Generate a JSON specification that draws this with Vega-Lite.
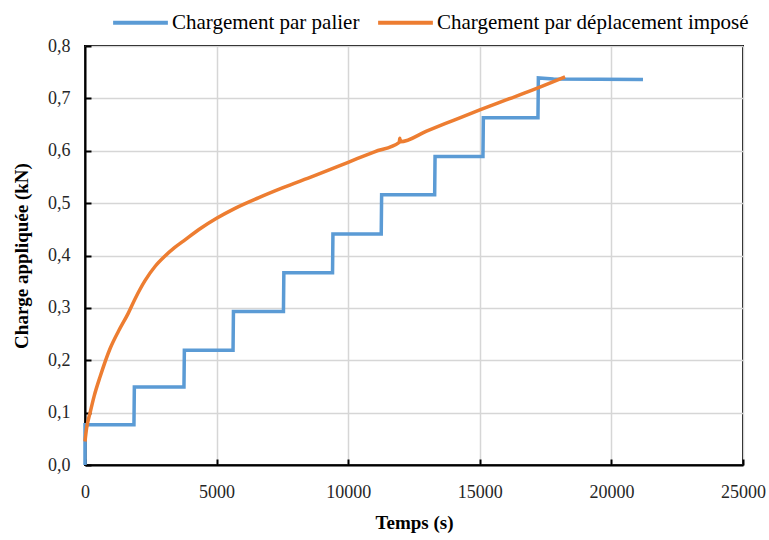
{
  "$schema": "https://vega.github.io/schema/vega-lite/v6.json",
  "width": 658,
  "height": 419,
  "autosize": {"type": "none"},
  "padding": {"left": 85, "top": 46, "right": 26, "bottom": 75},
  "background": "white",
  "config": {
    "font": "Liberation Serif",
    "view": {"stroke": "black", "strokeWidth": 2},
    "axis": {
      "gridColor": "#d6d6d6",
      "gridWidth": 1.5,
      "domainColor": "black",
      "domainWidth": 2,
      "tickColor": "black",
      "tickWidth": 2,
      "labelFlush": false,
      "labelFont": "Liberation Serif",
      "labelFontSize": 18,
      "labelColor": "#262626",
      "titleFont": "Liberation Serif",
      "titleFontSize": 19,
      "titleFontWeight": "bold",
      "titleColor": "#000000"
    }
  },
  "datasets": {
    "palier": [
      {"t": 0, "v": 0},
      {"t": 0, "v": 0.077},
      {"t": 1860, "v": 0.077},
      {"t": 1875, "v": 0.149},
      {"t": 3760, "v": 0.149},
      {"t": 3775, "v": 0.219},
      {"t": 5625, "v": 0.219},
      {"t": 5640, "v": 0.293},
      {"t": 7540, "v": 0.293},
      {"t": 7555, "v": 0.367},
      {"t": 9405, "v": 0.367},
      {"t": 9420, "v": 0.441},
      {"t": 11255, "v": 0.441},
      {"t": 11270, "v": 0.516},
      {"t": 13285, "v": 0.516},
      {"t": 13300, "v": 0.589},
      {"t": 15120, "v": 0.589},
      {"t": 15135, "v": 0.663},
      {"t": 17210, "v": 0.663},
      {"t": 17225, "v": 0.739},
      {"t": 17800, "v": 0.737},
      {"t": 21200, "v": 0.736}
    ],
    "deplacement": [
      {"t": 0, "v": 0.045},
      {"t": 60, "v": 0.07},
      {"t": 190, "v": 0.099},
      {"t": 350, "v": 0.132},
      {"t": 570, "v": 0.168},
      {"t": 950, "v": 0.222},
      {"t": 1266, "v": 0.255},
      {"t": 1646, "v": 0.29},
      {"t": 1900, "v": 0.317},
      {"t": 2280, "v": 0.352},
      {"t": 2660, "v": 0.379},
      {"t": 3040, "v": 0.399},
      {"t": 3400, "v": 0.415},
      {"t": 3800, "v": 0.43},
      {"t": 4400, "v": 0.452},
      {"t": 5000, "v": 0.471},
      {"t": 5700, "v": 0.49},
      {"t": 6585, "v": 0.51},
      {"t": 7500, "v": 0.529},
      {"t": 8700, "v": 0.552},
      {"t": 10000, "v": 0.578},
      {"t": 11000, "v": 0.598},
      {"t": 11940, "v": 0.616},
      {"t": 11960, "v": 0.624},
      {"t": 11980, "v": 0.617},
      {"t": 13000, "v": 0.638},
      {"t": 14000, "v": 0.658},
      {"t": 15000, "v": 0.678},
      {"t": 16000, "v": 0.697},
      {"t": 17160, "v": 0.719},
      {"t": 18240, "v": 0.741}
    ]
  },
  "layer": [
    {
      "data": {"name": "palier"},
      "transform": [{"calculate": "'Chargement par palier'", "as": "serie"}],
      "mark": {"type": "line", "strokeWidth": 3.5, "interpolate": "linear"},
      "encoding": {
        "x": {
          "field": "t", "type": "quantitative",
          "scale": {"domain": [0, 25000], "nice": false},
          "axis": {
            "title": "Temps (s)",
            "values": [0, 5000, 10000, 15000, 20000, 25000],
            "format": "d",
            "tickSize": -6,
            "labelPadding": 24,
            "titlePadding": 12
          }
        },
        "y": {
          "field": "v", "type": "quantitative",
          "scale": {"domain": [0, 0.8], "nice": false},
          "axis": {
            "title": "Charge appliquée (kN)",
            "values": [0, 0.1, 0.2, 0.3, 0.4, 0.5, 0.6, 0.7, 0.8],
            "labelExpr": "replace(format(datum.value, '.1f'), '.', ',')",
            "tickSize": -6,
            "labelPadding": 21,
            "titlePadding": 16
          }
        },
        "color": {
          "field": "serie", "type": "nominal",
          "scale": {
            "domain": ["Chargement par palier", "Chargement par déplacement imposé"],
            "range": ["#5B9BD5", "#ED7D31"]
          },
          "legend": {
            "title": null,
            "orient": "none",
            "direction": "horizontal",
            "legendX": 26,
            "legendY": -53,
            "symbolType": "stroke",
            "symbolSize": 3000,
            "symbolStrokeWidth": 4,
            "labelFont": "Liberation Serif",
            "labelFontSize": 21,
            "labelColor": "#000000",
            "labelOffset": 2,
            "columnPadding": 10,
            "labelLimit": 400
          }
        }
      }
    },
    {
      "data": {"name": "deplacement"},
      "transform": [{"calculate": "'Chargement par déplacement imposé'", "as": "serie"}],
      "mark": {"type": "line", "strokeWidth": 3.5, "interpolate": "monotone"},
      "encoding": {
        "x": {"field": "t", "type": "quantitative"},
        "y": {"field": "v", "type": "quantitative"},
        "color": {"field": "serie", "type": "nominal"}
      }
    }
  ]
}
